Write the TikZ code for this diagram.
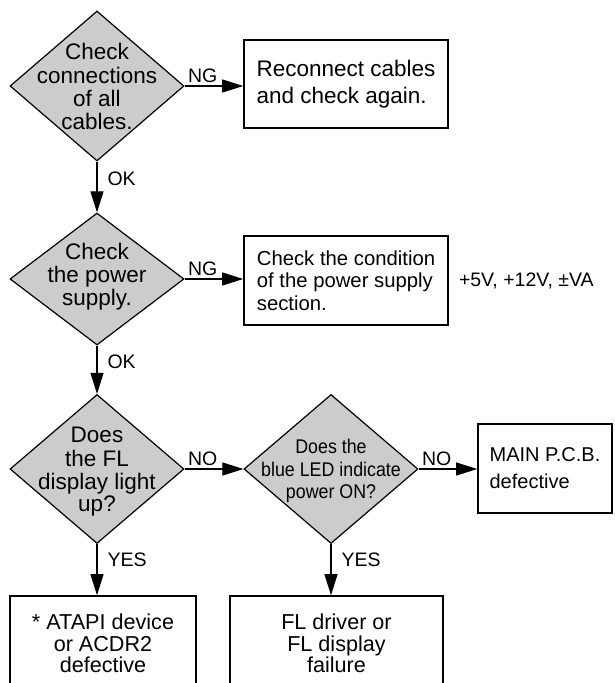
\documentclass[tikz,border=0pt]{standalone}
\usepackage{fontspec}
\usepackage{graphicx}
\setmainfont{Liberation Sans}
\usetikzlibrary{positioning,shapes.geometric,arrows.meta}

% text of a diamond, kept out of the shape size
\newcommand{\dtxt}[2][1]{\smash{\makebox[0pt]{\raisebox{-0.4em}{\scalebox{#1}[1]{\begin{tabular}{@{}c@{}}#2\end{tabular}}}}}}

\begin{document}
\begin{tikzpicture}[x=1pt,y=-1pt,
    dia/.style={diamond,draw,fill=black!20,line width=1.2pt,inner sep=0pt,minimum width=174pt,
        font=\fontsize{22.5}{22.7}\selectfont},
    box/.style={rectangle,draw,line width=1.6pt,inner sep=0pt},
    lbl/.style={inner sep=3pt,font=\fontsize{19.5}{22}\selectfont},
    arr/.style={-{Triangle[length=21pt,width=13pt]},line width=1.1pt}]
\useasboundingbox (0,0) rectangle (614,683);
\clip (0,0) rectangle (614,683);

% questions
\node[dia,minimum height=150pt] (d1) at (97,86) {\dtxt{Check\\connections\\of all\\cables.}};
\node[dia,minimum height=132pt] (d2) at (97,279) {\smash{\raisebox{5pt}{\dtxt{Check\\the power\\supply.}}}};
\node[dia,minimum height=149pt] (d3) at (97,469) {\dtxt{Does\\the FL\\display light\\up?}};
\node[dia,minimum height=149pt,font=\fontsize{19.8}{22.5}\selectfont] (d4) at (331,469)
    {\dtxt[0.9]{Does the\\blue LED indicate\\power ON?}};

% answers
\node[box,minimum width=204pt,minimum height=88pt,align=left,font=\fontsize{22.5}{27}\selectfont]
    (b1) at (346,84) {Reconnect cables\\and check again.};
\node[box,minimum width=204pt,minimum height=89pt,align=left,font=\fontsize{20.3}{22.5}\selectfont]
    (b2) at (346,280.5) {Check the condition\\of the power supply\\section.};
\node[lbl,right=7pt of b2] (volt) {+5V, +12V, ±VA};
\node[box,minimum width=134pt,minimum height=89pt,align=left,font=\fontsize{20}{27}\selectfont]
    (b3) at (545,468.5) {MAIN P.C.B.\\defective};
\node[box,minimum width=186pt,minimum height=95pt,align=center,font=\fontsize{21.6}{21.5}\selectfont]
    (b4) at (103,643.5) {* ATAPI device\\or ACDR2\\defective};
\node[box,minimum width=213pt,minimum height=95pt,align=center,font=\fontsize{21.6}{21.5}\selectfont]
    (b5) at (336.5,643.5) {FL driver or\\FL display\\failure};

% connectors
\draw[arr] (d1.east) -- node[lbl,above right,pos=0] (ng1) {NG} (d1.east -| b1.west);
\draw[arr] (d1.south) -- node[lbl,right=7pt,pos=0.34] (ok1) {OK} (d2.north);
\draw[arr] (d2.east) -- node[lbl,above right,pos=0] (ng2) {NG} (d2.east -| b2.west);
\draw[arr] (d2.south) -- node[lbl,right=7pt,pos=0.33] (ok2) {OK} (d3.north);
\draw[arr] (d3.east) -- node[lbl,above right,pos=0] (no1) {NO} (d4.west);
\draw[arr] (d4.east) -- node[lbl,above right,pos=0] (no2) {NO} (d4.east -| b3.west);
\draw[arr] (d3.south) -- node[lbl,right=7pt,pos=0.31] (yes1) {YES} (d3.south |- b4.north);
\draw[arr] (d4.south) -- node[lbl,right=7pt,pos=0.31] (yes2) {YES} (d4.south |- b5.north);
\end{tikzpicture}
\end{document}
